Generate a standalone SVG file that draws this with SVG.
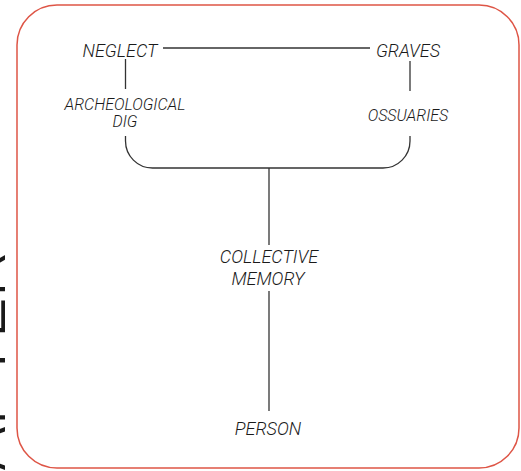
<svg xmlns="http://www.w3.org/2000/svg" width="521" height="471" viewBox="0 0 521 471">
<style>
.lbl{font-family:Roboto,"Liberation Sans",sans-serif;font-style:italic;font-weight:300;fill:#1a1a1a;text-anchor:middle}
.big{font-size:18px}
.sm{font-size:16px}
.ln{fill:none;stroke:#333;stroke-width:1.3}
</style>
<rect width="521" height="471" fill="#fff"/>
<text transform="translate(5,252) rotate(-90)" style="font-family:Roboto,'Liberation Sans',sans-serif;font-weight:300;font-size:72px;fill:#1a1a1a;text-anchor:end">CHAPTER</text>
<rect x="17" y="5" width="502" height="463" rx="40" ry="40" fill="none" stroke="#de5546" stroke-width="1.5"/>
<g id="connectors">
<line class="ln" x1="163" y1="48" x2="370" y2="48"/>
<line class="ln" x1="125.5" y1="59" x2="125.5" y2="89"/>
<line class="ln" x1="410" y1="61" x2="410" y2="91"/>
<path class="ln" d="M125.5,136 V141 A27,27 0 0 0 152.5,168 H383 A27,27 0 0 0 410,141 V136"/>
<line class="ln" x1="269" y1="168" x2="269" y2="245"/>
<line class="ln" x1="269" y1="291" x2="269" y2="411"/>
</g>
<g id="neglect"><text class="lbl big" x="120" y="57">NEGLECT</text></g>
<g id="graves"><text class="lbl big" x="408" y="57">GRAVES</text></g>
<g id="archeological-dig"><text class="lbl sm" x="125" y="110">ARCHEOLOGICAL</text><text class="lbl sm" x="125" y="127">DIG</text></g>
<g id="ossuaries"><text class="lbl sm" x="408" y="121">OSSUARIES</text></g>
<g id="collective-memory"><text class="lbl big" x="269" y="263">COLLECTIVE</text><text class="lbl big" x="268" y="285">MEMORY</text></g>
<g id="person"><text class="lbl big" x="268" y="435">PERSON</text></g>
</svg>
